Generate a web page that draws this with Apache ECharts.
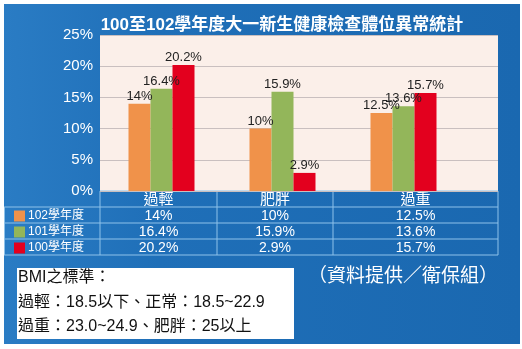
<!DOCTYPE html>
<html>
<head>
<meta charset="utf-8">
<script src="https://cdn.jsdelivr.net/npm/echarts@6/dist/echarts.min.js"></script>
<style>
html, body { margin: 0; padding: 0; background: #fff; }
#main { position: absolute; left: 4px; top: 4px; width: 516px; height: 340px; }
</style>
</head>
<body>
<div id="main"></div>
<script>
var categories = ['過輕', '肥胖', '過重'];
var yearNames = ['102學年度', '101學年度', '100學年度'];
var yearColors = ['#f0924a', '#93b65a', '#e3001e'];
var values102 = [14, 10, 12.5];
var values101 = [16.4, 15.9, 13.6];
var values100 = [20.2, 2.9, 15.7];
var yTicks = [0, 5, 10, 15, 20, 25];
var noteLines = ['BMI之標準：', '過輕：18.5以下、正常：18.5~22.9', '過重：23.0~24.9、肥胖：25以上'];
var sourceText = '（資料提供／衛保組）';

var font = "'Liberation Sans', 'Noto Sans CJK TC', sans-serif";
var chart = echarts.init(document.getElementById('main'));

// table layout (chart coords)
var colX = [96, 213, 329, 494];
var rowY = [187, 203, 219, 235, 251];
var lineColor = '#8ec2ea';
var seriesVals = [values102, values101, values100];

var graphics = [];
// horizontal lines
graphics.push({ type: 'line', shape: { x1: colX[0], y1: rowY[0], x2: colX[3], y2: rowY[0] }, style: { stroke: lineColor, lineWidth: 1 } });
for (var r = 1; r < rowY.length; r++) {
	graphics.push({ type: 'line', shape: { x1: 0, y1: rowY[r], x2: colX[3], y2: rowY[r] }, style: { stroke: lineColor, lineWidth: 1 } });
}
// vertical lines
graphics.push({ type: 'line', shape: { x1: 0.5, y1: rowY[1], x2: 0.5, y2: rowY[4] }, style: { stroke: lineColor, lineWidth: 1 } });
for (var c = 0; c < colX.length; c++) {
	graphics.push({ type: 'line', shape: { x1: colX[c], y1: rowY[0], x2: colX[c], y2: rowY[4] }, style: { stroke: lineColor, lineWidth: 1 } });
}
// header row
for (var c = 0; c < categories.length; c++) {
	graphics.push({
		type: 'text', x: (colX[c] + colX[c + 1]) / 2, y: (rowY[0] + rowY[1]) / 2 + 1,
		style: { text: categories[c], fill: '#fff', font: '15px ' + font, align: 'center', verticalAlign: 'middle' }
	});
}
// data rows
for (var s = 0; s < yearNames.length; s++) {
	var cy = (rowY[s + 1] + rowY[s + 2]) / 2 + 1;
	graphics.push({ type: 'rect', shape: { x: 10, y: cy - 5.5, width: 11, height: 11 }, style: { fill: yearColors[s] } });
	graphics.push({
		type: 'text', x: 24, y: cy,
		style: { text: yearNames[s], fill: '#fff', font: '12px ' + font, align: 'left', verticalAlign: 'middle' }
	});
	for (var c = 0; c < categories.length; c++) {
		graphics.push({
			type: 'text', x: (colX[c] + colX[c + 1]) / 2, y: cy,
			style: { text: seriesVals[s][c] + '%', fill: '#fff', font: '14px ' + font, align: 'center', verticalAlign: 'middle' }
		});
	}
}
// BMI note box
graphics.push({ type: 'rect', shape: { x: 13, y: 264, width: 277, height: 71 }, style: { fill: '#fff' } });
var noteY = [274, 299, 323];
for (var i = 0; i < noteLines.length; i++) {
	graphics.push({
		type: 'text', x: 14, y: noteY[i],
		style: { text: noteLines[i], fill: '#111', font: '16px ' + font, align: 'left', verticalAlign: 'middle' }
	});
}
graphics.push({
	type: 'text', x: 399, y: 273,
	style: { text: sourceText, fill: '#fff', font: '19px ' + font, align: 'center', verticalAlign: 'middle' }
});

var barLabel = {
	show: true, position: 'top', distance: 1,
	color: '#222', fontSize: 13, fontFamily: font,
	formatter: function(p){ return p.value + '%'; }
};

var series = [];
for (var s = 0; s < yearNames.length; s++) {
	series.push({
		name: yearNames[s], type: 'bar', xAxisIndex: 1, yAxisIndex: 1,
		data: seriesVals[s], barWidth: 22, barGap: '0%',
		itemStyle: { color: yearColors[s] },
		label: barLabel
	});
}

chart.setOption({
	backgroundColor: {
		type: 'linear', x: 0, y: 0, x2: 1, y2: 0,
		colorStops: [{ offset: 0, color: '#2a7cc4' }, { offset: 0.3, color: '#1f6fb8' }, { offset: 1, color: '#1a68b0' }]
	},
	animation: false,
	title: {
		text: '100至102學年度大一新生健康檢查體位異常統計',
		left: 273, top: 8, textAlign: 'center',
		textStyle: { color: '#fff', fontSize: 17, fontWeight: 'bold', fontFamily: font }
	},
	grid: [
		{ left: 96, top: 31, width: 398, height: 156, show: true, backgroundColor: '#fbefe9', borderWidth: 0 },
		{ left: 97, top: 31, width: 363, height: 156 }
	],
	xAxis: [
		{ gridIndex: 0, type: 'category', data: categories, show: false },
		{ gridIndex: 1, type: 'category', data: categories, show: false }
	],
	yAxis: [
		{
			gridIndex: 0, type: 'value', min: yTicks[0], max: yTicks[yTicks.length - 1], interval: 5,
			axisLine: { show: false }, axisTick: { show: false },
			axisLabel: { color: '#fff', fontSize: 15, fontFamily: font, margin: 7, formatter: '{value}%' },
			splitLine: { lineStyle: { color: '#c9bfbf', width: 1 } }
		},
		{
			gridIndex: 1, type: 'value', min: yTicks[0], max: yTicks[yTicks.length - 1], interval: 5,
			show: false, splitLine: { show: false }
		}
	],
	series: series,
	graphic: graphics
});
</script>
</body>
</html>
